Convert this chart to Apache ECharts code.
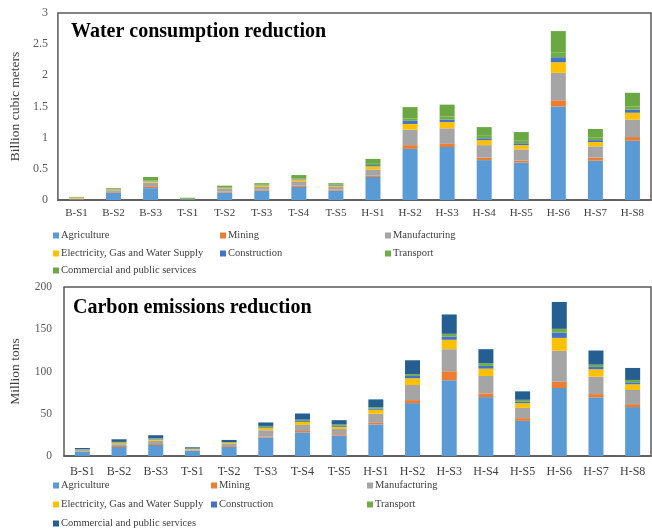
<!DOCTYPE html>
<html>
<head>
<meta charset="utf-8">
<script src="https://cdn.jsdelivr.net/npm/echarts@6/dist/echarts.min.js"></script>
<style>
  html, body { margin: 0; padding: 0; background: #fff; }
  #chart { width: 652px; height: 532px; }
</style>
</head>
<body>
<div id="chart"></div>
<script>
// 情景
var scenarios = ["B-S1","B-S2","B-S3","T-S1","T-S2","T-S3","T-S4","T-S5","H-S1","H-S2","H-S3","H-S4","H-S5","H-S6","H-S7","H-S8"];
var sectors = ["Agriculture","Mining","Manufacturing","Electricity, Gas and Water Supply","Construction","Transport","Commercial and public services"];

// 节水量 (billion m3)
var waterAgriculture   = [0.01,0.12,0.19,0.01,0.12,0.15,0.21,0.15,0.37,0.82,0.85,0.64,0.60,1.50,0.63,0.95];
var waterMining        = [0.005,0.01,0.02,0.001,0.015,0.015,0.02,0.015,0.02,0.06,0.05,0.04,0.03,0.10,0.05,0.06];
var waterManufacturing = [0.01,0.026,0.07,0.002,0.045,0.045,0.07,0.045,0.10,0.25,0.25,0.20,0.18,0.44,0.18,0.28];
var waterElectricity   = [0.012,0.014,0.02,0.002,0.01,0.025,0.03,0.02,0.05,0.09,0.10,0.08,0.07,0.17,0.07,0.11];
var waterConstruction  = [0.003,0.005,0.01,0.001,0.005,0.005,0.01,0.01,0.02,0.05,0.04,0.03,0.03,0.08,0.03,0.05];
var waterTransport     = [0.002,0.003,0.01,0.004,0.007,0.006,0.012,0.006,0.02,0.04,0.05,0.04,0.04,0.08,0.04,0.05];
var waterCommercial    = [0.008,0.012,0.05,0.016,0.028,0.024,0.048,0.024,0.08,0.18,0.19,0.14,0.14,0.34,0.14,0.22];

// 碳减排 (million tons)
var carbonAgriculture   = [5,10.7,13.1,6,10.7,22,27.8,24.2,37.3,62.6,89.6,69.7,41.6,80.4,69.4,57.9];
var carbonMining        = [0.6,1.1,1.1,0.5,1.0,1.2,1.8,1.6,1.9,3.6,10.7,4.4,3.2,7.5,3.9,3.5];
var carbonManufacturing = [1.4,2.2,3.8,1.3,2.6,7.3,7.2,6.2,10.8,17.8,26.1,20.6,12.2,36.5,20.6,16.7];
var carbonElectricity   = [0.4,1.3,1.5,0.5,1.2,2.4,3.6,2.5,4.7,8,11.1,8.7,5.6,15.4,8.7,6.7];
var carbonConstruction  = [0.3,0.7,0.8,0.3,0.5,1.1,1.1,1.2,1.6,2.7,3.9,3.2,2,6.3,2.8,2.4];
var carbonTransport     = [0.3,0.7,0.7,0.3,0.6,1.6,1.5,1.6,1.6,2,3.2,3.2,1.9,4.4,2.7,2.8];
var carbonCommercial    = [1.5,3.1,3.6,1.4,2.4,4.1,7.3,5.1,9.1,16.6,22.9,16.6,10,31.8,16.7,14.2];

var waterTicks = [0,0.5,1,1.5,2,2.5,3];
var carbonTicks = [0,50,100,150,200];

var waterColors  = ["#5B9BD5","#ED7D31","#A5A5A5","#FFC000","#4472C4","#70AD47","#6AA843"];
var carbonColors = ["#5B9BD5","#ED7D31","#A5A5A5","#FFC000","#4472C4","#70AD47","#255E91"];

var serif = "'Liberation Serif', 'Times New Roman', serif";
var waterData = [waterAgriculture,waterMining,waterManufacturing,waterElectricity,waterConstruction,waterTransport,waterCommercial];
var carbonData = [carbonAgriculture,carbonMining,carbonManufacturing,carbonElectricity,carbonConstruction,carbonTransport,carbonCommercial];

var myChart = echarts.init(document.getElementById("chart"));

var series = [];
sectors.forEach(function(name, i) {
  series.push({
    name: name, type: "bar", stack: "water", xAxisIndex: 0, yAxisIndex: 0,
    barWidth: 15, itemStyle: { color: waterColors[i] }, data: waterData[i]
  });
});
sectors.forEach(function(name, i) {
  series.push({
    name: name, type: "bar", stack: "carbon", xAxisIndex: 1, yAxisIndex: 1,
    barWidth: 15, itemStyle: { color: carbonColors[i] }, data: carbonData[i]
  });
});

// 图例：每项单独放，排成三列
function legendItems(colors, cols, rows) {
  return sectors.map(function(n, i) {
    return {
      left: cols[i % 3], top: rows[Math.floor(i / 3)] - 6, padding: 0,
      itemWidth: 6, itemHeight: 6, icon: "rect", itemGap: 0,
      textStyle: { fontFamily: serif, fontSize: 10.5, color: "#404040", padding: [0, 0, 0, -3] },
      data: [{ name: n, itemStyle: { color: colors[i] } }]
    };
  });
}

var option = {
  animation: false,
  title: [
    { text: "Water consumption reduction", left: 66, top: 17,
      textStyle: { fontFamily: serif, fontSize: 20, fontWeight: "bold", color: "#000" } },
    { text: "Carbon emissions reduction", left: 68, top: 293,
      textStyle: { fontFamily: serif, fontSize: 20, fontWeight: "bold", color: "#000" } }
  ],
  legend: legendItems(waterColors, [53, 220, 385], [236, 254, 271])
    .concat(legendItems(carbonColors, [53, 211, 367], [486, 505, 524])),
  grid: [
    { left: 54, right: 1, top: 13, bottom: 332, show: true, borderColor: "#595959", borderWidth: 1.5 },
    { left: 60, right: 1, top: 287, bottom: 76, show: true, borderColor: "#595959", borderWidth: 1.5 }
  ],
  xAxis: [
    { type: "category", gridIndex: 0, data: scenarios,
      axisTick: { show: false }, axisLine: { lineStyle: { color: "#595959", width: 1.5 } },
      axisLabel: { fontFamily: serif, fontSize: 11, color: "#404040", margin: 8, interval: 0 } },
    { type: "category", gridIndex: 1, data: scenarios,
      axisTick: { show: false }, axisLine: { lineStyle: { color: "#595959", width: 1.5 } },
      axisLabel: { fontFamily: serif, fontSize: 12, color: "#404040", margin: 10, interval: 0 } }
  ],
  yAxis: [
    { type: "value", gridIndex: 0, min: waterTicks[0], max: waterTicks[waterTicks.length - 1], interval: 0.5,
      name: "Billion cubic meters", nameLocation: "middle", nameGap: 32,
      nameTextStyle: { fontFamily: serif, fontSize: 13.5, color: "#404040" },
      axisLine: { show: false }, axisTick: { show: false }, splitLine: { show: false },
      axisLabel: { fontFamily: serif, fontSize: 12, color: "#595959", margin: 10 } },
    { type: "value", gridIndex: 1, min: carbonTicks[0], max: carbonTicks[carbonTicks.length - 1], interval: 50,
      name: "Million tons", nameLocation: "middle", nameGap: 42,
      nameTextStyle: { fontFamily: serif, fontSize: 13.5, color: "#404040" },
      axisLine: { show: false }, axisTick: { show: false }, splitLine: { show: false },
      axisLabel: { fontFamily: serif, fontSize: 11.5, color: "#595959", margin: 12 } }
  ],
  series: series
};

myChart.setOption(option);
window.addEventListener("resize", function() {
  myChart.resize();
});
</script>
</body>
</html>
